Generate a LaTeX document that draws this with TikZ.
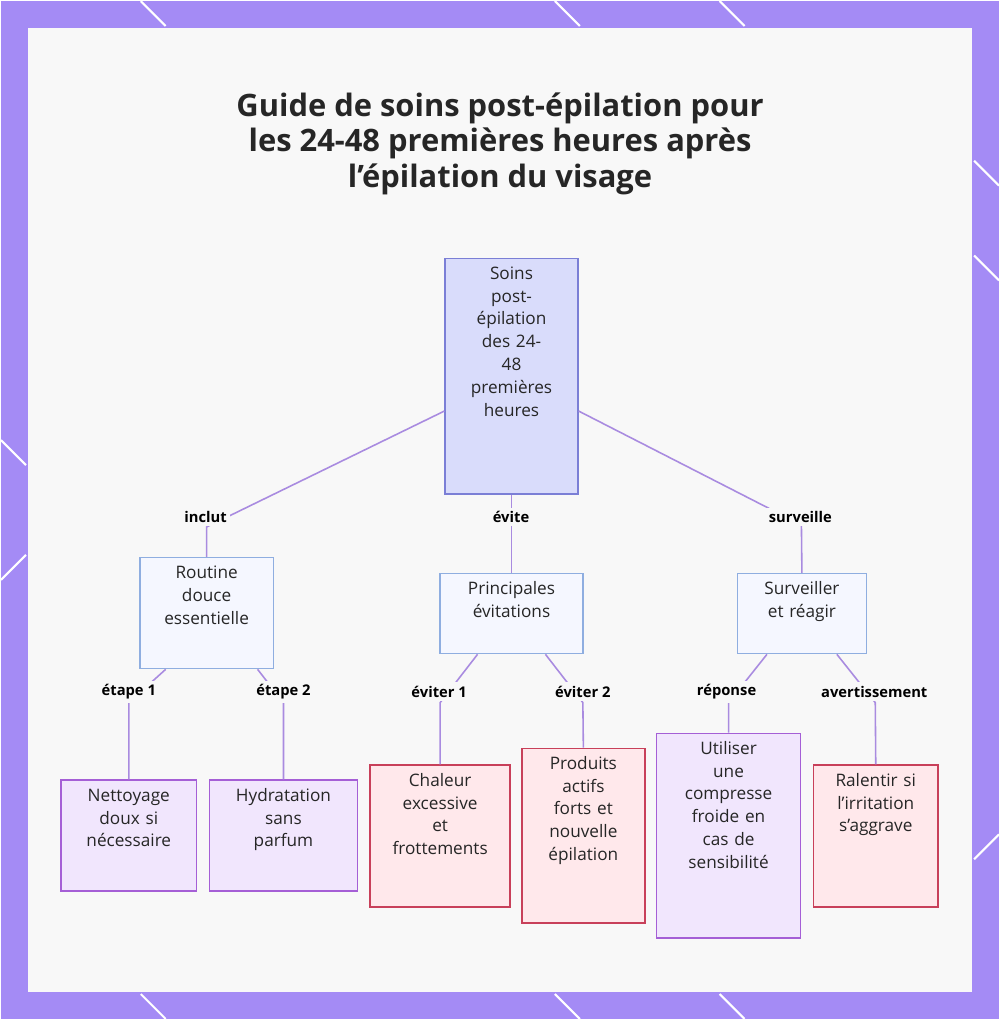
\documentclass[tikz,border=0pt]{standalone}
\usepackage{fontspec}
\setmainfont{Open Sans}
\usetikzlibrary{positioning}
\definecolor{frame}{HTML}{A48BF5}
\definecolor{paper}{HTML}{F8F8F8}
\definecolor{link}{HTML}{A98BE0}
\definecolor{rootfill}{HTML}{D9DCFB}
\definecolor{rootline}{HTML}{7B7FD6}
\definecolor{midfill}{HTML}{F5F7FF}
\definecolor{midline}{HTML}{8FAEE0}
\definecolor{dofill}{HTML}{F1E6FD}
\definecolor{doline}{HTML}{A55FD6}
\definecolor{nofill}{HTML}{FFE8EB}
\definecolor{noline}{HTML}{C8405A}
\tikzset{
  box/.style={draw,line width=0.45pt,align=center,font=\fontsize{4.9}{6.5}\selectfont,
    text=black!85,inner sep=0pt,anchor=north,text height=0.21cm},
  rootbox/.style={box,fill=rootfill,draw=rootline},
  midbox/.style={box,fill=midfill,draw=midline},
  dobox/.style={box,fill=dofill,draw=doline},
  nobox/.style={box,fill=nofill,draw=noline},
  link/.style={draw=link,line width=0.45pt},
  tag/.style={fill=paper,font=\bfseries\fontsize{4.2}{5}\selectfont,inner sep=1pt}
}
\begin{document}
\begin{tikzpicture}[x=0.01cm,y=-0.01cm]
    % frame and page
    \fill[frame] (0,0) rectangle (1000,1020);
    \foreach \a/\b in {140/165,555/580,720/745}
    {
        \draw[white,line width=0.6pt] (\a,0) -- (\b,25);
        \draw[white,line width=0.6pt] (\b,1020) -- (\a,995);
      };
    \draw[white,line width=0.6pt] (0,440) -- (25,465);
    \draw[white,line width=0.6pt] (0,580) -- (25,555);
    \draw[white,line width=0.6pt] (975,160) -- (1000,185);
    \draw[white,line width=0.6pt] (975,255) -- (1000,280);
    \draw[white,line width=0.6pt] (975,860) -- (1000,835);
    \fill[paper] (27,27) rectangle (973,993);

    % title
    \node[font=\bfseries\fontsize{8.8}{10.2}\selectfont,align=center,text=black!85] (title) at (500,143)
        {Guide de soins post-épilation pour\\les 24-48 premières heures après\\l'épilation du visage};

    % nodes (text hangs from the top edge)
    \node[rootbox,minimum width=1.33cm,text width=1.0cm,text depth=2.15cm] (root) at (511.5,257)
        {Soins\\post-\\épilation\\des 24-\\48\\premières\\heures};
    \node[midbox,minimum width=1.34cm,text width=1.1cm,text depth=0.90cm] (routine) at (206,557)
        {Routine\\douce\\essentielle};
    \node[midbox,minimum width=1.43cm,text width=1.2cm,text depth=0.59cm] (avoid) at (511.5,573)
        {Principales\\évitations};
    \node[midbox,minimum width=1.29cm,text width=1.1cm,text depth=0.59cm] (watch) at (802.5,573)
        {Surveiller\\et réagir};
    \node[dobox,minimum width=1.36cm,text width=1.1cm,text depth=0.90cm] (clean) at (128,780)
        {Nettoyage\\doux si\\nécessaire};
    \node[dobox,minimum width=1.48cm,text width=1.2cm,text depth=0.90cm] (hydra) at (283,780)
        {Hydratation\\sans\\parfum};
    \node[nobox,minimum width=1.40cm,text width=1.1cm,text depth=1.21cm] (heat) at (440,765)
        {Chaleur\\excessive\\et\\frottements};
    \node[nobox,minimum width=1.23cm,text width=1.0cm,text depth=1.54cm] (actives) at (583.5,748)
        {Produits\\actifs\\forts et\\nouvelle\\épilation};
    \node[dobox,minimum width=1.44cm,text width=1.1cm,text depth=1.84cm] (cold) at (729,733)
        {Utiliser\\une\\compresse\\froide en\\cas de\\sensibilité};
    \node[nobox,minimum width=1.25cm,text width=1.1cm,text depth=1.21cm] (slow) at (876.5,765)
        {Ralentir si\\l'irritation\\s'aggrave};

    % links
    \draw[link] ([yshift=-0.35cm]root.west) -- (206,527) -- (routine.north);
    \draw[link] (root.south) -- (avoid.north);
    \draw[link] ([yshift=-0.35cm]root.east) -- (802,525) -- (watch.north);
    \node[tag] (t1) at (205,517) {inclut};
    \node[tag] (t2) at (511,517) {évite};
    \node[tag] (t3) at (801,517) {surveille};

    \draw[link] ([xshift=-0.41cm]routine.south) -- (128,703) -- (clean.north);
    \draw[link] ([xshift=0.51cm]routine.south) -- (283,703) -- (hydra.north);
    \draw[link] ([xshift=-0.34cm]avoid.south) -- (440,703) -- (heat.north);
    \draw[link] ([xshift=0.34cm]avoid.south) -- (583,703) -- (actives.north);
    \draw[link] ([xshift=-0.35cm]watch.south) -- (729,703) -- (cold.north);
    \draw[link] ([xshift=0.35cm]watch.south) -- (876,703) -- (slow.north);
    \node[tag] (t4) at (128,692) {étape 1};
    \node[tag] (t5) at (283,692) {étape 2};
    \node[tag] (t6) at (439,692) {éviter 1};
    \node[tag] (t7) at (583,692) {éviter 2};
    \node[tag] (t8) at (727,692) {réponse};
    \node[tag] (t9) at (875,692) {avertissement};
\end{tikzpicture}
\end{document}
